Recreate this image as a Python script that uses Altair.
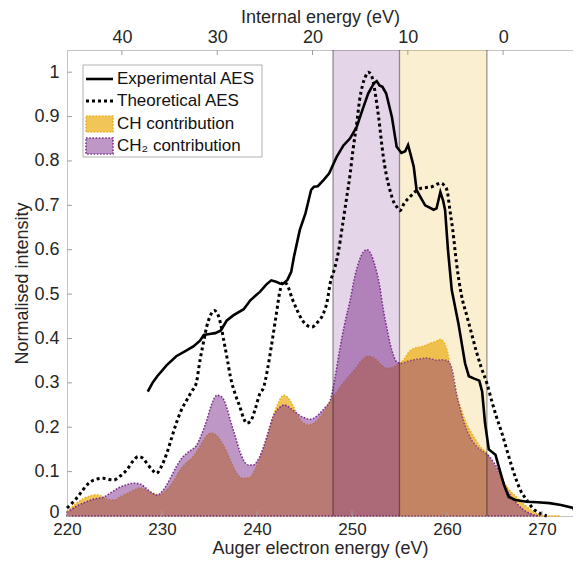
import altair as alt
import pandas as pd

# ---------------- data ----------------
exp_x = [228.5, 229.0, 229.5, 230.5, 231.5, 232.5, 233.3, 234.0, 234.4, 235.0, 235.6, 236.2, 236.8,
         237.5, 238.6, 239.3, 240.3, 241.0, 241.5, 242.0, 242.4, 242.8, 243.2, 243.6, 243.9, 244.5,
         245.1, 245.7, 246.0, 246.4, 247.0, 247.6, 248.4, 249.1, 249.8, 250.5, 251.1, 251.7, 252.3,
         252.6, 252.9, 253.2, 253.6, 254.2, 254.7, 255.2, 255.6, 255.9, 256.2, 256.5, 256.8, 257.7,
         258.6, 258.9, 259.3, 259.6, 259.8, 260.1, 260.5, 261.2, 261.9, 262.3, 262.8, 263.4, 263.7,
         264.0, 264.4, 265.1, 265.6, 266.0, 266.5, 267.2, 268.4, 269.5, 270.8, 272.0, 273.3, 273.6]
exp_y = [0.280, 0.300, 0.315, 0.340, 0.360, 0.372, 0.382, 0.395, 0.408, 0.410, 0.412, 0.418, 0.440,
         0.452, 0.466, 0.486, 0.505, 0.522, 0.531, 0.528, 0.524, 0.524, 0.532, 0.550, 0.585, 0.644,
         0.682, 0.735, 0.742, 0.743, 0.757, 0.772, 0.810, 0.835, 0.851, 0.877, 0.915, 0.952, 0.975,
         0.980, 0.970, 0.967, 0.952, 0.899, 0.832, 0.818, 0.822, 0.836, 0.812, 0.787, 0.734, 0.700,
         0.690, 0.693, 0.730, 0.710, 0.689, 0.600, 0.509, 0.434, 0.344, 0.315, 0.310, 0.305, 0.280,
         0.210, 0.150, 0.138, 0.100, 0.070, 0.043, 0.036, 0.032, 0.031, 0.029, 0.025, 0.018, 0.0]

th_x = [220.0, 221.0, 221.4, 222.2, 222.8, 223.8, 224.9, 225.6, 226.3, 227.0, 227.5, 228.0, 228.4,
        229.0, 229.4, 229.9, 230.5, 231.0, 231.5, 232.0, 232.6, 233.1, 233.6, 234.0, 234.4, 234.7,
        235.1, 235.5, 235.9, 236.2, 236.5, 236.9, 237.2, 237.7, 238.2, 238.6, 238.9, 239.3, 239.8,
        240.3, 240.7, 241.1, 241.5, 242.0, 242.4, 242.8, 243.2, 243.7, 244.2, 244.8, 245.4, 245.8,
        246.3, 247.0, 247.4, 247.7, 248.2, 248.6, 249.0, 249.4, 249.8, 250.1, 250.5, 250.8, 251.1,
        251.4, 251.7, 252.0, 252.2, 252.5, 252.8, 253.3, 253.6, 254.0, 254.4, 254.7, 255.05, 255.5,
        256.1, 256.6, 257.2, 257.8, 258.4, 259.0, 259.4, 259.7, 260.0, 260.3, 260.6, 261.0, 261.5,
        262.1, 262.6, 263.1, 263.6, 264.2, 264.7, 265.2, 265.8, 266.3, 266.8, 267.3, 267.8, 268.4,
        269.0, 269.8, 270.5]
th_y = [0.018, 0.040, 0.051, 0.072, 0.081, 0.085, 0.081, 0.090, 0.104, 0.125, 0.134, 0.130, 0.119,
        0.103, 0.096, 0.110, 0.141, 0.175, 0.209, 0.237, 0.261, 0.280, 0.299, 0.351, 0.395, 0.426,
        0.452, 0.463, 0.453, 0.430, 0.396, 0.350, 0.314, 0.275, 0.246, 0.220, 0.209, 0.213, 0.240,
        0.276, 0.290, 0.330, 0.381, 0.450, 0.505, 0.528, 0.520, 0.490, 0.465, 0.440, 0.428, 0.426,
        0.435, 0.457, 0.485, 0.524, 0.560, 0.599, 0.655, 0.712, 0.770, 0.824, 0.885, 0.937, 0.970,
        0.989, 1.000, 0.995, 0.982, 0.945, 0.899, 0.809, 0.770, 0.734, 0.707, 0.697, 0.688, 0.705,
        0.719, 0.730, 0.738, 0.740, 0.742, 0.748, 0.750, 0.745, 0.734, 0.690, 0.645, 0.570, 0.500,
        0.450, 0.410, 0.370, 0.335, 0.299, 0.260, 0.224, 0.185, 0.149, 0.113, 0.081, 0.055, 0.036,
        0.018, 0.006, 0.0]

ch2_x = [220.0, 221.0, 221.8, 222.8, 223.8, 224.6, 225.4, 226.2, 227.0, 227.7, 228.4, 229.0, 229.5,
         230.0, 230.5, 231.0, 231.5, 232.0, 232.6, 233.1, 233.6, 234.1, 234.7, 235.2, 235.8, 236.3,
         236.8, 237.2, 237.7, 238.2, 238.6, 239.1, 239.6, 240.2, 240.7, 241.2, 241.7, 242.3, 242.9,
         243.5, 244.2, 244.9, 245.6, 246.1, 246.6, 247.2, 247.7, 248.2, 248.7, 249.2, 249.8, 250.3,
         250.8, 251.2, 251.6, 252.0, 252.4, 252.9, 253.3, 253.7, 254.0, 254.4, 254.7, 255.2, 255.8,
         256.5, 257.2, 257.9, 258.5, 258.9, 259.5, 260.0, 260.5, 261.0, 261.4, 261.7, 262.2, 262.6,
         263.2, 263.8, 264.5, 265.0, 265.4, 265.9, 266.3, 266.8, 267.3, 268.0, 268.7, 269.8]
ch2_y = [0.008, 0.022, 0.030, 0.038, 0.042, 0.052, 0.063, 0.070, 0.074, 0.072, 0.061, 0.051, 0.047,
         0.055, 0.070, 0.090, 0.111, 0.128, 0.141, 0.149, 0.158, 0.180, 0.215, 0.250, 0.272, 0.268,
         0.245, 0.215, 0.180, 0.145, 0.125, 0.115, 0.115, 0.130, 0.156, 0.190, 0.224, 0.243, 0.250,
         0.243, 0.231, 0.222, 0.218, 0.222, 0.231, 0.245, 0.260, 0.310, 0.374, 0.430, 0.486, 0.540,
         0.577, 0.595, 0.600, 0.590, 0.565, 0.520, 0.464, 0.420, 0.389, 0.360, 0.347, 0.344, 0.348,
         0.352, 0.354, 0.356, 0.353, 0.351, 0.352, 0.350, 0.333, 0.276, 0.240, 0.216, 0.188, 0.171,
         0.155, 0.145, 0.133, 0.118, 0.104, 0.080, 0.059, 0.042, 0.029, 0.015, 0.006, 0.0]

ch_x = [220.0, 221.0, 221.8, 222.4, 223.1, 223.7, 224.2, 225.0, 225.6, 226.3, 227.0, 227.7, 228.5,
        229.2, 229.8, 230.3, 230.8, 231.4, 231.9, 232.6, 233.3, 233.8, 234.3, 234.8, 235.2, 235.8,
        236.3, 236.8, 237.4, 237.9, 238.5, 239.2, 239.8, 240.5, 241.1, 241.7, 242.3, 242.8, 243.3,
        243.8, 244.4, 244.9, 245.4, 245.9, 246.6, 247.2, 247.7, 248.4, 249.1, 249.8, 250.5, 251.1,
        251.7, 252.2, 252.6, 253.1, 253.6, 254.2, 254.7, 255.4, 256.1, 256.6, 257.2, 257.7, 258.2,
        258.8, 259.3, 259.7, 260.0, 260.4, 260.7, 261.0, 261.4, 261.9, 262.4, 263.0, 263.5, 264.2,
        264.7, 265.2, 265.8, 266.3, 266.8, 267.3, 267.8, 268.4, 269.1, 269.8, 270.5, 271.9]
ch_y = [0.010, 0.029, 0.040, 0.045, 0.048, 0.044, 0.038, 0.036, 0.043, 0.050, 0.058, 0.063, 0.057,
        0.050, 0.047, 0.055, 0.066, 0.085, 0.104, 0.120, 0.134, 0.150, 0.168, 0.183, 0.187, 0.180,
        0.165, 0.145, 0.115, 0.095, 0.085, 0.086, 0.105, 0.141, 0.180, 0.224, 0.258, 0.272, 0.266,
        0.248, 0.222, 0.209, 0.205, 0.208, 0.222, 0.240, 0.258, 0.280, 0.300, 0.318, 0.336, 0.352,
        0.360, 0.357, 0.351, 0.340, 0.333, 0.334, 0.340, 0.351, 0.372, 0.378, 0.381, 0.384, 0.389,
        0.393, 0.398, 0.390, 0.374, 0.330, 0.299, 0.270, 0.246, 0.215, 0.194, 0.172, 0.156, 0.141,
        0.122, 0.104, 0.083, 0.066, 0.053, 0.043, 0.032, 0.021, 0.010, 0.002, 0.0, 0.0]

band_start = [248.0, 255.0]
band_end = [255.0, 264.2]
band_color = ["#7E2F8E", "#EDB120"]
band_edges = [248.0, 255.0, 264.2]

x_ticks = [220, 230, 240, 250, 260, 270]
y_ticks = [0, 0.1, 0.2, 0.3, 0.4, 0.5, 0.6, 0.7, 0.8, 0.9, 1.0]
top_ticks = [40, 30, 20, 10, 0]

legend_labels = ["Experimental AES", "Theoretical AES", "CH contribution", "CH\u2082 contribution"]

# ---------------- styling ----------------
FONT = "Liberation Sans"
FS = 18
W, H = 506, 466
PX_PER_EV = 9.5
X_MAX = 220 + W / PX_PER_EV
ORANGE = "#EDB120"
PURPLE = "#7E2F8E"
AXC = "#c4c4c4"
TXT = "#262626"

common_axis = dict(ticks=False, grid=False, domainColor=AXC, titleFontSize=FS,
                   labelFont=FONT, titleFont=FONT, labelColor=TXT, titleColor=TXT,
                   titleFontWeight="normal", labelFlush=False, labelOverlap=False)

xs = alt.Scale(domain=[220, X_MAX], nice=False, zero=False)
ys = alt.Scale(domain=[0, 1.05], nice=False, zero=False)
x_axis = alt.Axis(values=x_ticks, title="Auger electron energy (eV)", labelFontSize=17,
                  labelPadding=5, titlePadding=2, **common_axis)
y_axis = alt.Axis(values=y_ticks, title="Normalised intensity", format="~g", labelFontSize=FS,
                  labelPadding=8, titlePadding=2,
                  labelOffset={"condition": {"test": "datum.value === 0", "value": -4}, "value": 0},
                  **common_axis)


def X(field):
    return alt.X(field, type="quantitative", scale=xs, axis=x_axis)


def Y(field):
    return alt.Y(field, type="quantitative", scale=ys, axis=y_axis)


df_exp = pd.DataFrame({"x": exp_x, "y": exp_y})
df_th = pd.DataFrame({"x": th_x, "y": th_y})
df_ch = pd.DataFrame({"x": ch_x, "y": ch_y})
df_ch2 = pd.DataFrame({"x": ch2_x, "y": ch2_y})
df_band = pd.DataFrame({"x": band_start, "x2": band_end, "c": band_color})
df_edges = pd.DataFrame({"x": band_edges})
df_xt = pd.DataFrame({"x": x_ticks})
df_yt = pd.DataFrame({"y": y_ticks})
df_top = pd.DataFrame({"ie": top_ticks})

area_ch = alt.Chart(df_ch).mark_area(
    color=ORANGE, fillOpacity=0.75, stroke=ORANGE, strokeWidth=1.6, strokeDash=[1.6, 1.6],
    interpolate="monotone").encode(x=X("x"), y=Y("y"))
area_ch2 = alt.Chart(df_ch2).mark_area(
    color=PURPLE, fillOpacity=0.5, stroke=PURPLE, strokeWidth=1.6, strokeDash=[1.6, 1.6],
    interpolate="monotone").encode(x=X("x"), y=Y("y"))

bands = alt.Chart(df_band).mark_rect(opacity=0.2).encode(
    x=X("x"), x2="x2", y=alt.value(0), y2=alt.value(H),
    color=alt.Color("c:N", scale=None))
edges = alt.Chart(df_edges).mark_rule(color="black", opacity=0.4, strokeWidth=1.3).encode(
    x=X("x"), y=alt.value(0), y2=alt.value(H))

theo = alt.Chart(df_th).mark_line(color="black", strokeWidth=3, strokeDash=[3, 3],
                                  interpolate="monotone").encode(x=X("x"), y=Y("y"))
expl = alt.Chart(df_exp).mark_line(color="black", strokeWidth=2.6).encode(x=X("x"), y=Y("y"))

xt = alt.Chart(df_xt).mark_rule(color="#a0a0a0").encode(x=X("x"), y=alt.value(H), y2=alt.value(H - 5))
yt = alt.Chart(df_yt).mark_rule(color="#a0a0a0").encode(y=Y("y"), x=alt.value(0), x2=alt.value(5))

# legend (manual)
one = pd.DataFrame({"a": [0]})
leg_box = alt.Chart(one).mark_rect(fill="white", stroke="#b0b0b0", strokeWidth=1).encode(
    x=alt.value(16), x2=alt.value(195), y=alt.value(15), y2=alt.value(107))
rows = [29, 51, 74, 96]
leg_layers = [leg_box]
leg_layers.append(alt.Chart(one).mark_rule(color="black", strokeWidth=2.6).encode(
    x=alt.value(19), x2=alt.value(46), y=alt.value(rows[0])))
leg_layers.append(alt.Chart(one).mark_rule(color="black", strokeWidth=3, strokeDash=[3, 3]).encode(
    x=alt.value(19), x2=alt.value(46), y=alt.value(rows[1])))
leg_layers.append(alt.Chart(one).mark_rect(
    fill=ORANGE, fillOpacity=0.75, stroke=ORANGE, strokeWidth=1.6, strokeDash=[1.6, 1.6]).encode(
    x=alt.value(19), x2=alt.value(46), y=alt.value(rows[2] - 8), y2=alt.value(rows[2] + 8)))
leg_layers.append(alt.Chart(one).mark_rect(
    fill=PURPLE, fillOpacity=0.5, stroke=PURPLE, strokeWidth=1.6, strokeDash=[1.6, 1.6]).encode(
    x=alt.value(19), x2=alt.value(46), y=alt.value(rows[3] - 8), y2=alt.value(rows[3] + 8)))
for lab, ry in zip(legend_labels, rows):
    leg_layers.append(alt.Chart(one).mark_text(
        text=lab, align="left", baseline="middle", font=FONT, fontSize=17, color="#111111").encode(
        x=alt.value(50), y=alt.value(ry)))

main = alt.layer(area_ch, area_ch2, bands, edges, theo, expl, xt, yt, *leg_layers)

top_scale = alt.Scale(domain=[40 - (W - 54) / 9.55, 45.76], reverse=True, nice=False, zero=False)
top = alt.Chart(df_top).mark_rule(color="#a0a0a0").encode(
    x=alt.X("ie:Q", scale=top_scale,
            axis=alt.Axis(orient="top", values=top_ticks, title="Internal energy (eV)",
                          labelFontSize=FS, labelPadding=4, titlePadding=2, **common_axis)),
    y=alt.value(0), y2=alt.value(5))

chart = alt.layer(main, top).resolve_scale(x="independent").properties(
    width=W, height=H,
    padding={"left": 59, "top": 42, "right": 0, "bottom": 42},
    autosize=alt.AutoSizeParams(type="none"),
).configure_view(stroke=None).configure(background="white")

chart.save("out.html", embed_options={"renderer": "svg", "actions": False})
